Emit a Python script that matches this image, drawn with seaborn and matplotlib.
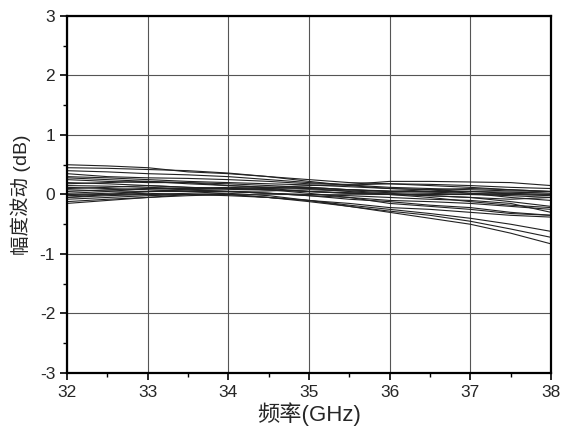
import numpy as np
import pandas as pd
import matplotlib
matplotlib.use("Agg")
import matplotlib.pyplot as plt
import seaborn as sns
from matplotlib.ticker import MultipleLocator

# Frequency points (GHz)
freq = [32, 32.5, 33, 33.5, 34, 34.5, 35, 35.5, 36, 36.5, 37, 37.5, 38]

# Amplitude fluctuation curves (dB)
c1 = [0.50, 0.48, 0.45, 0.38, 0.35, 0.30, 0.25, 0.20, 0.18, 0.15, 0.12, 0.08, 0.05]
c2 = [0.45, 0.44, 0.42, 0.40, 0.36, 0.30, 0.22, 0.15, 0.10, 0.08, 0.05, 0.02, 0.00]
c3 = [0.40, 0.38, 0.35, 0.33, 0.30, 0.25, 0.20, 0.16, 0.12, 0.10, 0.08, 0.06, 0.05]
c4 = [0.35, 0.30, 0.28, 0.27, 0.25, 0.22, 0.18, 0.17, 0.22, 0.22, 0.21, 0.20, 0.15]
c5 = [0.30, 0.28, 0.25, 0.22, 0.20, 0.18, 0.16, 0.13, 0.10, 0.08, 0.02, -0.05, -0.10]
c6 = [0.25, 0.22, 0.20, 0.20, 0.18, 0.15, 0.12, 0.08, 0.05, 0.05, 0.05, 0.04, 0.02]
c7 = [0.20, 0.18, 0.15, 0.12, 0.10, 0.12, 0.15, 0.16, 0.18, 0.17, 0.15, 0.12, 0.10]
c8 = [0.15, 0.14, 0.12, 0.10, 0.10, 0.08, 0.05, 0.02, 0.00, 0.00, 0.00, 0.02, 0.05]
c9 = [0.12, 0.10, 0.08, 0.05, 0.05, 0.06, 0.08, 0.06, 0.03, 0.02, 0.00, -0.02, -0.05]
c10 = [0.10, 0.12, 0.15, 0.12, 0.10, 0.08, 0.05, 0.03, 0.02, -0.02, -0.05, -0.12, -0.20]
c11 = [0.05, 0.08, 0.10, 0.08, 0.05, 0.02, 0.00, -0.02, -0.05, -0.08, -0.10, -0.15, -0.30]
c12 = [0.02, 0.05, 0.10, 0.10, 0.12, 0.10, 0.05, 0.02, 0.00, -0.02, -0.05, -0.08, -0.05]
c13 = [0.00, 0.02, 0.05, 0.05, 0.05, 0.02, -0.02, -0.08, -0.12, -0.18, -0.22, -0.30, -0.35]
c14 = [-0.02, 0.00, 0.02, 0.00, -0.02, -0.05, -0.10, -0.15, -0.22, -0.25, -0.30, -0.35, -0.38]
c15 = [-0.05, -0.02, 0.00, 0.02, 0.05, 0.02, -0.02, -0.05, -0.15, -0.20, -0.25, -0.32, -0.35]
c16 = [-0.08, -0.05, -0.02, 0.00, 0.00, -0.05, -0.10, -0.18, -0.25, -0.32, -0.40, -0.50, -0.62]
c17 = [-0.12, -0.08, -0.05, -0.02, 0.00, -0.05, -0.12, -0.20, -0.28, -0.35, -0.45, -0.58, -0.72]
c18 = [-0.15, -0.10, -0.05, 0.00, 0.02, -0.02, -0.10, -0.20, -0.30, -0.40, -0.50, -0.65, -0.83]
c19 = [0.08, 0.06, 0.05, 0.06, 0.08, 0.10, 0.12, 0.08, 0.05, 0.08, 0.10, 0.08, 0.05]
c20 = [0.18, 0.20, 0.22, 0.20, 0.15, 0.12, 0.10, 0.08, 0.06, 0.04, 0.02, 0.00, -0.02]
c21 = [0.28, 0.25, 0.22, 0.18, 0.15, 0.12, 0.10, 0.05, 0.00, -0.05, -0.12, -0.18, -0.22]
c22 = [-0.05, 0.00, 0.05, 0.08, 0.10, 0.08, 0.02, -0.05, -0.10, -0.12, -0.15, -0.20, -0.25]

curves = [c1, c2, c3, c4, c5, c6, c7, c8, c9, c10, c11, c12,
          c13, c14, c15, c16, c17, c18, c19, c20, c21, c22]

# Long-format table for seaborn
rows = []
for i, c in enumerate(curves):
    for f, v in zip(freq, c):
        rows.append({"freq": f, "amp": v, "curve": f"c{i + 1}"})
df = pd.DataFrame(rows)

sns.set_style("white")
plt.rcParams["font.family"] = ["Liberation Sans", "Noto Sans CJK SC"]
plt.rcParams["axes.unicode_minus"] = False

fig = plt.figure(figsize=(5.62, 4.37), dpi=100)
ax = fig.add_axes([0.1192, 0.1465, 0.8612, 0.8169])

# Grid at integer ticks
ax.grid(True, which="major", color="#555555", linewidth=0.8)
ax.set_axisbelow(True)

sns.lineplot(data=df, x="freq", y="amp", units="curve", estimator=None,
             color="#222222", linewidth=0.8, ax=ax, legend=False)

ax.set_xlim(32, 38)
ax.set_ylim(-3, 3)
ax.xaxis.set_major_locator(MultipleLocator(1))
ax.xaxis.set_minor_locator(MultipleLocator(0.5))
ax.yaxis.set_major_locator(MultipleLocator(1))
ax.yaxis.set_minor_locator(MultipleLocator(0.5))
ax.tick_params(which="major", direction="out", length=5, width=1.2,
               labelsize=12.5, color="black", bottom=True, left=True)
ax.tick_params(which="minor", direction="out", length=3, width=1.0,
               color="black", bottom=True, left=True)

for s in ax.spines.values():
    s.set_color("black")
    s.set_linewidth(1.6)

ax.set_xlabel("频率(GHz)", fontsize=16, labelpad=2)
ax.set_ylabel("幅度波动 (dB)", fontsize=14, labelpad=6)

fig.savefig("out.png", dpi=100)
